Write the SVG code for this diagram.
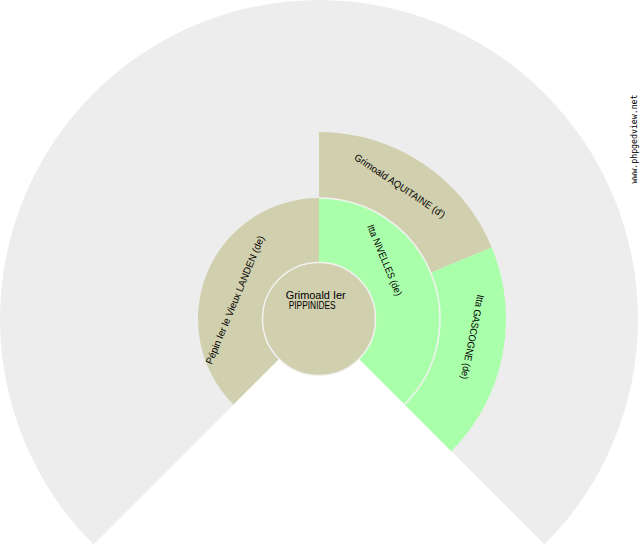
<svg xmlns="http://www.w3.org/2000/svg" width="640" height="550" viewBox="0 0 640 550">
<style>
.bg{fill:#EDEDED}
.tan{fill:#D0CFAE}
.grn{fill:#AAFFAA}
.sep{fill:none;stroke:#F2F2F2;stroke-width:1.5}
.lbl{font-family:"Liberation Sans","DejaVu Sans",Arial,sans-serif;font-size:10px;fill:#000;text-anchor:middle}
.wm{font-family:"DejaVu Sans Mono","Liberation Mono",monospace;font-size:9px;fill:#000;text-anchor:middle}
</style>
<rect width="640" height="550" fill="#FFFFFF"/>
<g id="fan-background">
<path class="bg" d="M319,319 L93.43,544.57 A319,319 0 1 1 544.57,544.57 Z"/>
</g>
<g id="node-pepin">
<path class="tan" d="M319,319 L233.44,404.56 A121,121 0 0 1 319,198 Z"/>
<text class="lbl" transform="translate(238.2,301.3) rotate(-67.5)" textLength="138" lengthAdjust="spacingAndGlyphs">Pépin Ier le Vieux LANDEN (de)</text>
</g>
<g id="node-itta-nivelles">
<path class="grn" d="M319,319 L319,198 A121,121 0 0 1 404.56,404.56 Z"/>
<text class="lbl" transform="translate(381.5,261.3) rotate(67.5)" textLength="76" lengthAdjust="spacingAndGlyphs">Itta NIVELLES (de)</text>
</g>
<g id="node-grimoald-aquitaine">
<path class="tan" d="M319,132 A187,187 0 0 1 491.77,247.44 L430.79,272.70 A121,121 0 0 0 319,198 Z"/>
<text class="lbl" transform="translate(398,188.7) rotate(33.75)" textLength="107" lengthAdjust="spacingAndGlyphs">Grimoald AQUITAINE (d')</text>
</g>
<g id="node-itta-gascogne">
<path class="grn" d="M491.77,247.44 A187,187 0 0 1 451.23,451.23 L404.56,404.56 A121,121 0 0 0 430.79,272.70 Z"/>
<text class="lbl" transform="translate(469.1,336.3) rotate(101.25)" textLength="86" lengthAdjust="spacingAndGlyphs">Itta GASCOGNE (de)</text>
</g>
<g id="connectors">
<path class="sep" d="M319,198 A121,121 0 0 1 404.56,404.56"/>
</g>
<g id="node-grimoald-ier">
<circle cx="319" cy="319" r="56.5" fill="#D0CFAE" stroke="#F2F2F2" stroke-width="1.5"/>
<text class="lbl" x="315.7" y="299" textLength="60" lengthAdjust="spacingAndGlyphs">Grimoald Ier</text>
<text class="lbl" x="312.2" y="309" textLength="47" lengthAdjust="spacingAndGlyphs">PIPPINIDES</text>
</g>
<g id="watermark">
<text class="wm" transform="translate(636.5,139) rotate(-90)" textLength="89" lengthAdjust="spacingAndGlyphs">www.phpgedview.net</text>
</g>
</svg>
